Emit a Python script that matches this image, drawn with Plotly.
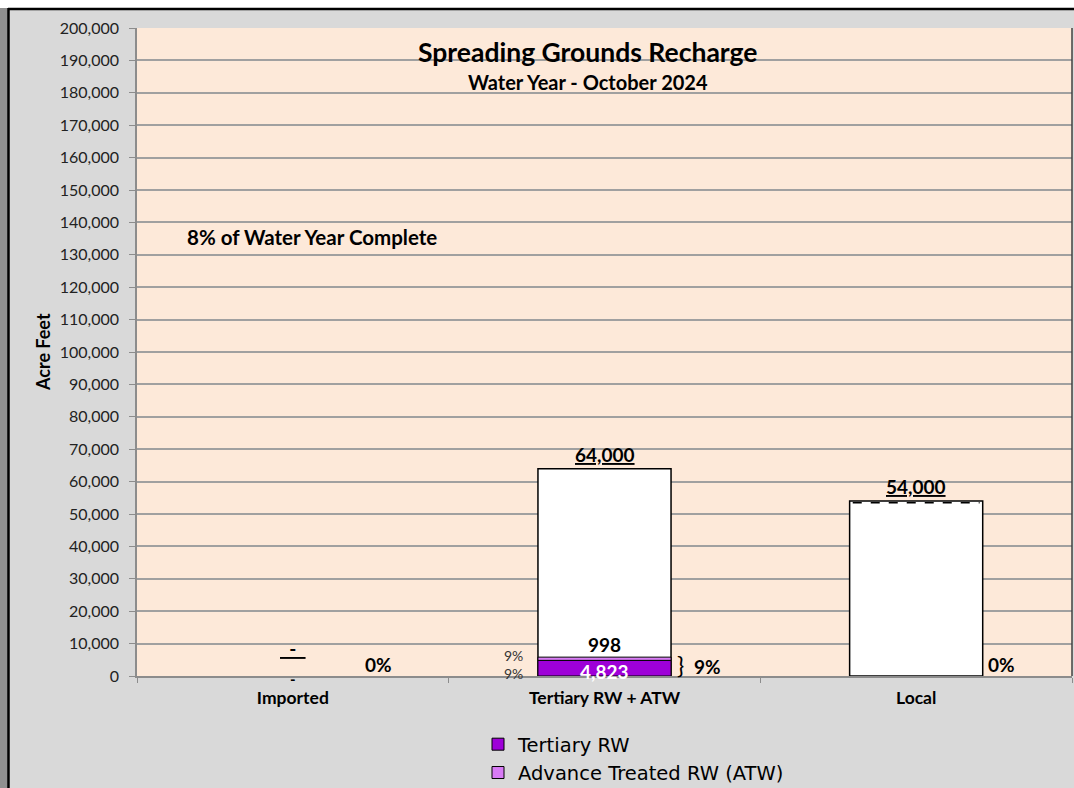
import plotly.graph_objects as go

# chart values
categories = ["Imported", "Tertiary RW + ATW", "Local"]
target_af = [0, 64000, 54000]          # white capacity bars
tertiary_rw = [0, 4823, 0]
atw = [0, 998, 0]
local_ref = [0, 0, 53500]              # dashed reference line on Local bar
target_labels = ["-", "64,000", "54,000"]
pct_complete = ["0%", "9%", "0%"]
year_complete = "8% of Water Year Complete"

W, H = 1074, 788
L, R, T, B = 137, 2, 28, 112
PW, PH = W - L - R, H - T - B
BARGAP = 0.573

PURPLE = "#9E00D8"
PINK = "#D87BF5"
FONT = "Lato, 'Open Sans', sans-serif"


def px(x):
    return (x - L) / PW


def py(y):
    return (H - B - y) / PH


def nz(vals):
    return [v if v else None for v in vals]


fig = go.Figure()

fig.add_trace(go.Bar(
    x=categories, y=nz(target_af), marker=dict(color="white", line=dict(color="black", width=1.5)),
    showlegend=False, hoverinfo="skip"))
fig.add_trace(go.Bar(
    x=categories, y=nz(tertiary_rw), name="Tertiary RW",
    marker=dict(color=PURPLE, line=dict(color="black", width=1))))
fig.add_trace(go.Bar(
    x=categories, y=nz(atw), base=tertiary_rw, name="Advance Treated RW (ATW)",
    marker=dict(color=PINK, line=dict(color="black", width=1))))

ann = []
shapes = []
half = (1 - BARGAP) / 2
for i, c in enumerate(categories):
    # dashed reference line inside the bar
    if local_ref[i]:
        shapes.append(dict(type="line", xref="x", yref="y", x0=i - half + 0.01, x1=i + half - 0.01,
                           y0=local_ref[i], y1=local_ref[i],
                           line=dict(color="black", width=1.5, dash="dash")))
    # capacity labels (underlined)
    lbl = target_labels[i]
    if lbl == "-":
        lbl = "\u00a0\u00a0-\u00a0\u00a0"
    ann.append(dict(x=c, y=target_af[i], text="<u>%s</u>" % lbl, showarrow=False,
                    yanchor="bottom", yshift=1 if target_af[i] else 14,
                    font=dict(size=19, color="black", family=FONT, weight="bold")))
    # percent of target
    txt = "<b>%s</b>" % pct_complete[i]
    if tertiary_rw[i] or atw[i]:
        txt = "<span style='font-size:24px;font-weight:normal'>}</span>  " + txt
    ann.append(dict(x=c, y=0, text=txt, showarrow=False, xanchor="left", xshift=70,
                    yanchor="middle", yshift=12,
                    font=dict(size=19, color="black", family=FONT)))
    total = tertiary_rw[i] + atw[i]
    if total:
        ann.append(dict(x=c, y=total, text="<b>{:,}</b>".format(atw[i]), showarrow=False,
                        yanchor="bottom", yshift=-1, font=dict(size=19, color="black", family=FONT)))
        ann.append(dict(x=c, y=tertiary_rw[i] / 2, text="<b>{:,}</b>".format(tertiary_rw[i]),
                        showarrow=False, yanchor="middle", yshift=-3,
                        font=dict(size=19, color="white", family=FONT)))
        ann.append(dict(x=c, y=total, text="9%", showarrow=False, xanchor="right", xshift=-80,
                        yanchor="middle", yshift=2, font=dict(size=14, color="#333", family=FONT)))
        ann.append(dict(x=c, y=0, text="9%", showarrow=False, xanchor="right", xshift=-80,
                        yanchor="middle", yshift=3, font=dict(size=14, color="#333", family=FONT)))
    elif not target_af[i]:
        ann.append(dict(x=c, y=0, text="<b>-</b>", showarrow=False, yanchor="middle", yshift=-3,
                        font=dict(size=15, color="black", family=FONT)))

ann += [
    dict(xref="paper", yref="paper", x=px(587), y=py(52), text="<b>Spreading Grounds Recharge</b>",
         xanchor="center", yanchor="middle", showarrow=False,
         font=dict(size=26.5, color="black", family=FONT)),
    dict(xref="paper", yref="paper", x=px(588), y=py(82), text="<b>Water Year - October 2024</b>",
         xanchor="center", yanchor="middle", showarrow=False,
         font=dict(size=20, color="black", family=FONT)),
    dict(xref="paper", yref="paper", x=px(185), y=py(237), text="<b>%s</b>" % year_complete,
         xanchor="left", yanchor="middle", showarrow=False,
         font=dict(size=20.5, color="black", family=FONT)),
    dict(xref="paper", yref="paper", x=px(43), y=py(352), text="<b>Acre Feet</b>", textangle=-90,
         xanchor="center", yanchor="middle", showarrow=False,
         font=dict(size=18, color="black", family=FONT)),
]

shapes += [
    dict(type="rect", xref="paper", yref="paper", x0=px(-5), x1=px(8), y0=py(H + 5), y1=py(-5),
         fillcolor="#909090", line=dict(width=0), layer="below"),
    dict(type="rect", xref="paper", yref="paper", x0=px(-5), x1=px(W + 5), y0=py(8), y1=py(-5),
         fillcolor="white", line=dict(width=0), layer="below"),
    dict(type="line", xref="paper", yref="paper", x0=px(8.5), x1=px(8.5), y0=py(H + 5), y1=py(8),
         line=dict(color="black", width=2.5)),
    dict(type="line", xref="paper", yref="paper", x0=px(8), x1=px(W + 5), y0=py(9), y1=py(9),
         line=dict(color="black", width=2.5)),
    dict(type="line", xref="paper", yref="paper", x0=1, x1=1, y0=0, y1=1,
         line=dict(color="#404040", width=1.5)),
]

fig.update_layout(
    width=W, height=H,
    margin=dict(l=L, r=R, t=T, b=B, autoexpand=False),
    barmode="overlay", bargap=BARGAP,
    paper_bgcolor="#D9D9D9", plot_bgcolor="#FDE9D9",
    font=dict(family=FONT, color="black", size=14),
    showlegend=True,
    legend=dict(xref="container", yref="container", x=478 / W, y=1 - 725 / H,
                xanchor="left", yanchor="top", bgcolor="rgba(0,0,0,0)",
                font=dict(size=19.5, family="'DejaVu Sans', sans-serif", color="black"),
                traceorder="normal", tracegroupgap=0, itemwidth=30),
    annotations=ann, shapes=shapes,
    hovermode=False,
)
fig.update_xaxes(
    type="category", showgrid=False, showline=True, linecolor="#8C8C8C", linewidth=1.5,
    ticks="outside", tickson="boundaries", ticklen=5, tickcolor="#8C8C8C", automargin=False,
    tickfont=dict(size=17.5, family=FONT, color="black", weight="bold"), ticklabelstandoff=5,
)
fig.update_yaxes(
    range=[0, 200000], dtick=10000, tickformat=",", showgrid=True, gridcolor="#A0A0A0", gridwidth=1.5,
    showline=True, linecolor="#8C8C8C", linewidth=1.5, ticks="outside", ticklen=6, tickcolor="#8C8C8C",
    tickfont=dict(size=16, family=FONT, color="#222"), zeroline=False, automargin=False,
    ticklabelstandoff=7,
)

# the page has a default 8px body margin; drop it so the figure sits at the window corner
fig.write_html("out.html", config={"displayModeBar": False},
               post_script="document.body.style.margin='0';")
